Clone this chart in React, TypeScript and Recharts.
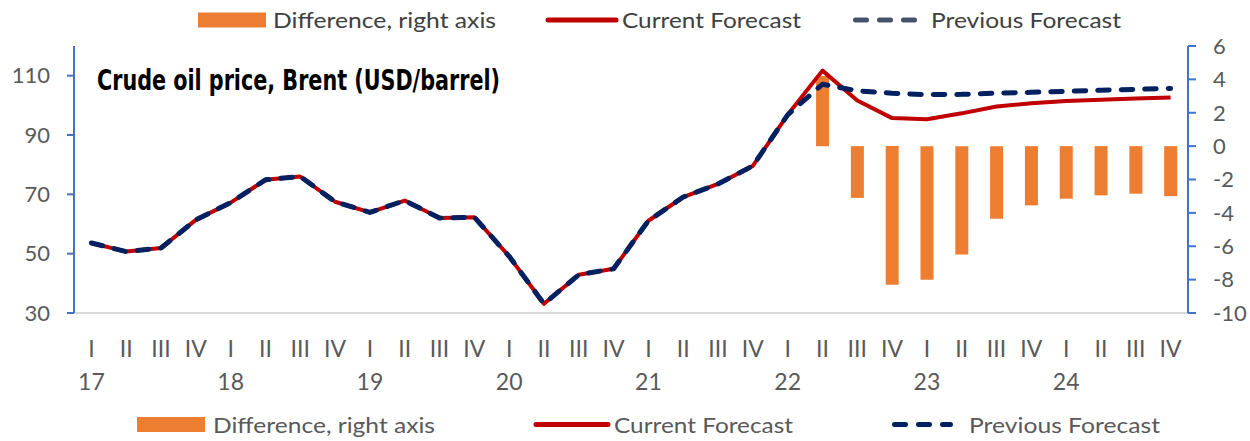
import React from "react";
import { ComposedChart, Bar, Line, XAxis, YAxis } from "recharts";

// Quarter labels and year labels for 2017 Q1 .. 2024 Q4
const years = ["17", "18", "19", "20", "21", "22", "23", "24"];
const quarterNames = ["I", "II", "III", "IV"];

// Brent price, USD/barrel – current forecast
const currentForecast = [
  53.6, 50.7, 51.9, 61.4,
  67.2, 74.9, 76.0, 67.5,
  63.9, 67.9, 62.0, 62.3,
  49.1, 33.1, 42.9, 44.9,
  61.1, 69.1, 73.5, 79.6,
  96.8, 111.7, 101.6, 95.7,
  95.3, 97.3, 99.6, 100.7,
  101.5, 101.9, 102.3, 102.6,
];

// Brent price, USD/barrel – previous forecast
const previousForecast = [
  53.6, 50.7, 51.9, 61.4,
  67.2, 74.9, 76.0, 67.5,
  63.9, 67.9, 62.0, 62.3,
  49.1, 33.1, 42.9, 44.9,
  61.1, 69.1, 73.5, 79.6,
  96.8, 107.1, 104.9, 104.1,
  103.6, 103.7, 104.1, 104.4,
  104.7, 105.1, 105.4, 105.7,
];

// Difference between the two forecasts (right axis)
const difference: (number | null)[] = [
  null, null, null, null,
  null, null, null, null,
  null, null, null, null,
  null, null, null, null,
  null, null, null, null,
  null, 4.2, -3.1, -8.3,
  -8.0, -6.5, -4.35, -3.55,
  -3.15, -2.95, -2.85, -3.0,
];

const leftTicks = [30, 50, 70, 90, 110];
const rightTicks = [-10, -8, -6, -4, -2, 0, 2, 4, 6];

const seriesNames = ["Difference, right axis", "Current Forecast", "Previous Forecast"];
const chartTitle = "Crude oil price, Brent (USD/barrel)";

const data = currentForecast.map((cur, i) => ({
  key: `${years[Math.floor(i / 4)]}-${quarterNames[i % 4]}`,
  quarter: quarterNames[i % 4],
  year: i % 4 === 0 ? years[Math.floor(i / 4)] : "",
  current: cur,
  previous: previousForecast[i],
  diff: difference[i],
}));

const FONT = "Lato, 'Open Sans', sans-serif";
const AXIS_BLUE = "#4472C4";
const TEXT_GRAY = "#595959";
const ORANGE = "#ED7D31";
const RED = "#C00000";
const NAVY = "#002060";

const QuarterTick = (props: any) => {
  const { x, y, payload, index } = props;
  const row = data[index] || data.find((d) => d.key === payload.value);
  return (
    <g>
      <text
        x={x}
        y={y + 44}
        textAnchor="middle"
        fontFamily={FONT}
        fontSize={23}
        fill={TEXT_GRAY}
      >
        {row ? row.quarter : ""}
      </text>
      {row && row.year ? (
        <text
          x={x}
          y={y + 77}
          textAnchor="middle"
          fontFamily={FONT}
          fontSize={23}
          fill={TEXT_GRAY}
        >
          {row.year}
        </text>
      ) : null}
    </g>
  );
};

const LegendRow = ({
  y,
  rectX,
  textXs,
  lineX,
  dashX,
  widths,
  dashColor,
  textColor,
}: {
  y: number;
  rectX: number;
  textXs: number[];
  lineX: [number, number];
  dashX: [number, number];
  widths: number[];
  dashColor: string;
  textColor: string;
}) => (
  <g fontFamily={FONT} fontSize={22} fill={textColor}>
    <rect x={rectX} y={y - 7.5} width={68} height={15} fill={ORANGE} />
    <text x={textXs[0]} y={y + 8} textLength={widths[0]} lengthAdjust="spacingAndGlyphs">
      {seriesNames[0]}
    </text>
    <line
      x1={lineX[0]}
      x2={lineX[1]}
      y1={y}
      y2={y}
      stroke={RED}
      strokeWidth={5}
      strokeLinecap="round"
    />
    <text x={textXs[1]} y={y + 8} textLength={widths[1]} lengthAdjust="spacingAndGlyphs">
      {seriesNames[1]}
    </text>
    <line
      x1={dashX[0]}
      x2={dashX[1]}
      y1={y}
      y2={y}
      stroke={dashColor}
      strokeWidth={5}
      strokeLinecap="round"
      strokeDasharray="11 13"
    />
    <text x={textXs[2]} y={y + 8} textLength={widths[2]} lengthAdjust="spacingAndGlyphs">
      {seriesNames[2]}
    </text>
  </g>
);

export default function App() {
  return (
    <div
      style={{
        position: "absolute",
        left: 0,
        top: 0,
        width: 1250,
        height: 441,
        background: "#ffffff",
      }}
    >
      <ComposedChart
        width={1250}
        height={441}
        data={data}
        margin={{ top: 46, right: 0, bottom: 68, left: 0 }}
      >
        <XAxis
          dataKey="key"
          xAxisId="x"
          height={60}
          interval={0}
          tickLine={false}
          tickSize={0}
          tickMargin={0}
          axisLine={{ stroke: "#d9d9d9", strokeWidth: 2 }}
          tick={<QuarterTick />}
        />
        <YAxis
          yAxisId="left"
          orientation="left"
          width={74}
          domain={[30, 120]}
          ticks={leftTicks}
          allowDataOverflow
          axisLine={{ stroke: AXIS_BLUE, strokeWidth: 2 }}
          tickLine={{ stroke: AXIS_BLUE, strokeWidth: 2 }}
          tickSize={7}
          tickMargin={17}
          tick={{ fill: TEXT_GRAY, fontSize: 22, fontFamily: FONT }}
        />
        <YAxis
          yAxisId="right"
          orientation="right"
          width={62}
          domain={[-10, 6]}
          ticks={rightTicks}
          allowDataOverflow
          axisLine={{ stroke: AXIS_BLUE, strokeWidth: 2 }}
          tickLine={{ stroke: AXIS_BLUE, strokeWidth: 2 }}
          tickSize={8}
          tickMargin={17}
          tick={{ fill: TEXT_GRAY, fontSize: 22, fontFamily: FONT }}
        />
        <Bar
          dataKey="diff"
          xAxisId="x"
          yAxisId="right"
          fill={ORANGE}
          barSize={13}
          isAnimationActive={false}
        />
        <Line
          dataKey="current"
          xAxisId="x"
          yAxisId="left"
          type="linear"
          stroke={RED}
          strokeWidth={4}
          strokeLinejoin="round"
          dot={false}
          activeDot={false}
          isAnimationActive={false}
        />
        <Line
          dataKey="previous"
          xAxisId="x"
          yAxisId="left"
          type="linear"
          stroke={NAVY}
          strokeWidth={5}
          strokeDasharray="11.5 12"
          strokeLinecap="round"
          strokeLinejoin="round"
          dot={false}
          activeDot={false}
          isAnimationActive={false}
        />
      </ComposedChart>

      <svg
        width={1250}
        height={441}
        style={{ position: "absolute", left: 0, top: 0, pointerEvents: "none" }}
      >
        <text
          x={97}
          y={90}
          fontFamily="'Liberation Sans Narrow', 'DejaVu Sans Condensed', 'Roboto Condensed', sans-serif"
          fontWeight="bold"
          fontSize={29}
          fill="#000000"
          textLength={403}
          lengthAdjust="spacingAndGlyphs"
        >
          {chartTitle}
        </text>
        <LegendRow
          y={20}
          rectX={198}
          textXs={[273, 622, 931]}
          lineX={[548, 616]}
          dashX={[855.5, 914.5]}
          widths={[223, 179, 190]}
          dashColor="#44546A"
          textColor="#404040"
        />
        <LegendRow
          y={424.5}
          rectX={137}
          textXs={[213, 614, 969]}
          lineX={[536, 608]}
          dashX={[894.5, 950.5]}
          widths={[222, 179, 191]}
          dashColor={NAVY}
          textColor={TEXT_GRAY}
        />
      </svg>
    </div>
  );
}
